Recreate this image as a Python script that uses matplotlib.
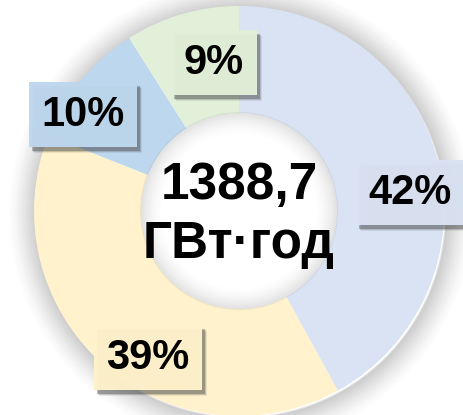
import matplotlib
matplotlib.use("Agg")
import matplotlib.pyplot as plt
from matplotlib.patches import Circle, Rectangle

# Доли выработки (по часовой стрелке от 12 часов)
shares = [42, 39, 10, 9]
labels = ["42%", "39%", "10%", "9%"]
colors = ["#DAE3F3", "#FFF2CC", "#BDD7EE", "#E2F0D9"]
total_text = "1388,7\nГВт·год"

# Где стоят подписи (в пикселях картинки, y сверху)
label_pos = [(410, 193), (148, 358), (83, 115), (214, 63)]

W, H = 464, 415
cx, cy = 239, H - 211
r_out, r_in = 205, 98

plt.rcParams["font.family"] = ["Liberation Sans", "DejaVu Sans"]

fig = plt.figure(figsize=(W / 100, H / 100), dpi=100)
ax = fig.add_axes([0, 0, 1, 1])

# мягкая тень вокруг кольца
n = 28
for i in range(n):
    a = 0.2 * (1 - i / n) ** 1.5
    ax.add_patch(Circle((cx + 2, cy - 2), r_out + i, fill=False, edgecolor="#7f7f7f",
                        lw=1.6, alpha=a, zorder=0))

ax.pie(shares, colors=colors, startangle=90, counterclock=False, radius=r_out,
       center=(cx, cy), wedgeprops=dict(width=r_out - r_in, linewidth=0))

# внутренняя тень в "дырке"
n = 22
for i in range(n):
    a = 0.12 * (1 - i / n) ** 1.8
    ax.add_patch(Circle((cx, cy), r_in - i, fill=False, edgecolor="#8a8a8a",
                        lw=1.6, alpha=a, zorder=3))

ax.text(cx, H - 215, total_text, ha="center", va="center", fontsize=37,
        fontweight="bold", linespacing=1.25, zorder=5)

ax.set_xlim(0, W)
ax.set_ylim(0, H)
ax.axis("off")

boxes = []
for lab, col, (x, y) in zip(labels, colors, label_pos):
    t = ax.text(x, H - y, lab, ha="center", va="center", fontsize=30,
                fontweight="bold", color="black", zorder=6,
                bbox=dict(boxstyle="square,pad=0.3", fc=col, ec="none", alpha=0.97))
    boxes.append(t)

# тени под плашками (прямоугольники по размеру плашек)
fig.canvas.draw()
inv = ax.transData.inverted()
for t in boxes:
    ext = t.get_bbox_patch().get_window_extent()
    (x0, y0), (x1, y1) = inv.transform([[ext.x0, ext.y0], [ext.x1, ext.y1]])
    for k, a in enumerate([0.35, 0.2, 0.1]):
        ax.add_patch(Rectangle((x0 + 3 + k, y0 - 4 - k), x1 - x0, y1 - y0,
                               fc="#444444", ec="none", alpha=a, zorder=4))

plt.savefig("out.png", dpi=100)
